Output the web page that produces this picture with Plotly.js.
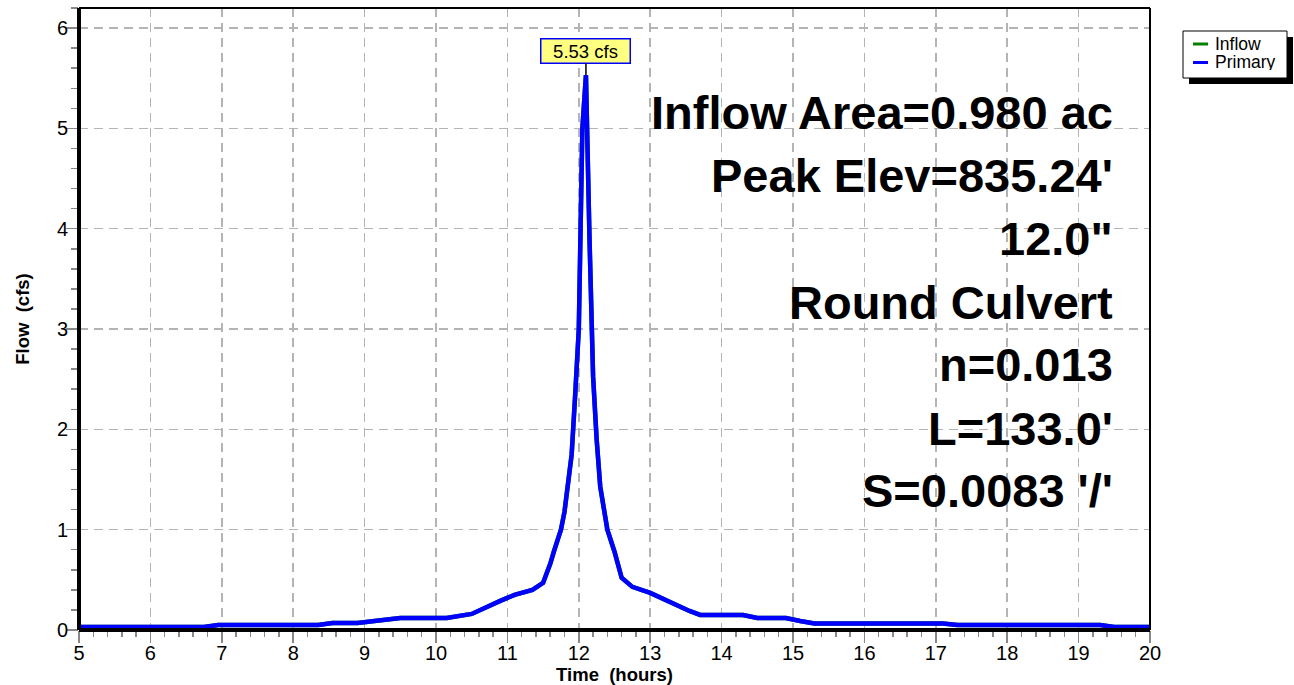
<!DOCTYPE html>
<html>
<head>
<meta charset="utf-8">
<script src="https://cdn.plot.ly/plotly-3.0.1.min.js"></script>
<style>html,body{margin:0;padding:0;background:#fff;}#chart{width:1294px;height:685px;}</style>
</head>
<body>
<div id="chart"></div>
<script>
// ---- data ----
const seriesNames = ["Inflow", "Primary"];
const seriesColors = ["#008000", "#0000ff"];
const time = [5.00, 6.75, 6.95, 8.35, 8.55, 8.90, 9.50, 10.15, 10.50, 10.70, 10.90, 11.10, 11.35, 11.50, 11.55, 11.60, 11.65, 11.70, 11.75, 11.80, 11.85, 11.90, 11.95, 12.00, 12.05, 12.10, 12.15, 12.20, 12.25, 12.30, 12.40, 12.50, 12.60, 12.75, 13.00, 13.20, 13.40, 13.55, 13.70, 14.30, 14.50, 14.90, 15.10, 15.30, 17.10, 17.30, 19.30, 19.50, 20.00];
const primary = [0.03, 0.03, 0.05, 0.05, 0.07, 0.07, 0.12, 0.12, 0.16, 0.23, 0.29, 0.35, 0.40, 0.47, 0.56, 0.66, 0.78, 0.90, 1.00, 1.18, 1.45, 1.75, 2.35, 3.00, 5.00, 5.53, 3.90, 2.53, 1.90, 1.43, 1.00, 0.78, 0.52, 0.43, 0.37, 0.30, 0.24, 0.19, 0.15, 0.15, 0.12, 0.12, 0.09, 0.065, 0.065, 0.05, 0.05, 0.03, 0.03];
const inflow = primary.slice();
const peakTime = 12.10;
const peakFlow = 5.53;
const peakLabel = "5.53 cfs";
const infoLines = ["Inflow Area=0.980 ac", "Peak Elev=835.24'", "12.0\"", "Round Culvert", "n=0.013", "L=133.0'", "S=0.0083 '/'"];
const xTickVals = [5,6,7,8,9,10,11,12,13,14,15,16,17,18,19,20];
const yTickVals = [0,1,2,3,4,5,6];

// ---- geometry ----
const W = 1294, H = 685;
const M = {l: 79, r: 144, t: 8, b: 55};
const PW = W - M.l - M.r, PH = H - M.t - M.b;
const px = x => (x - M.l) / PW;
const py = y => (H - M.b - y) / PH;
const FONT = "Arial, Liberation Sans, sans-serif";

const traces = [
  {x: time, y: inflow, name: seriesNames[0], type: "scatter", mode: "lines",
   line: {color: seriesColors[0], width: 4.5}, showlegend: false, hoverinfo: "x+y"},
  {x: time, y: primary, name: seriesNames[1], type: "scatter", mode: "lines",
   line: {color: seriesColors[1], width: 4.5}, showlegend: false, hoverinfo: "x+y"}
];

const annotations = [];
const infoY = [112, 176, 239, 302, 364, 428, 490];
infoLines.forEach((t, i) => {
  annotations.push({xref: "paper", yref: "paper", x: px(1115), y: py(infoY[i]),
    xanchor: "right", yanchor: "middle", showarrow: false, text: t,
    font: {family: FONT, size: 47, color: "#000", weight: "bold"}});
});
annotations.push({x: peakTime, y: peakFlow, xref: "x", yref: "y", text: peakLabel,
  showarrow: true, arrowhead: 0, arrowwidth: 1.5, arrowcolor: "#000", ax: 0, ay: -24,
  bgcolor: "#ffff80", bordercolor: "#0000ff", borderwidth: 1.5, borderpad: 2,
  width: 84, height: 19, font: {family: FONT, size: 18.5, color: "#000"}});
// legend text
const legY = [44, 62.5];
seriesNames.forEach((n, i) => {
  annotations.push({xref: "paper", yref: "paper", x: px(1214), y: py(legY[i]),
    xanchor: "left", yanchor: "middle", showarrow: false, text: n, height: 16, borderpad: 0,
    font: {family: FONT, size: 17.5, color: "#000"}});
});

const shapes = [
  // frame
  {type: "line", xref: "paper", yref: "paper", x0: 0, x1: 1, y0: 1, y1: 1, line: {color: "#000", width: 2}},
  {type: "line", xref: "paper", yref: "paper", x0: 1, x1: 1, y0: 0, y1: 1, line: {color: "#000", width: 2}},
  {type: "line", xref: "paper", yref: "paper", x0: 0, x1: 0, y0: 0, y1: 1, line: {color: "#000", width: 4}},
  {type: "line", xref: "paper", yref: "paper", x0: 0, x1: 1, y0: 0, y1: 0, line: {color: "#000", width: 4}},
  // legend shadow + box
  {type: "rect", xref: "paper", yref: "paper", x0: px(1189), x1: px(1293), y0: py(37), y1: py(84), fillcolor: "#000", line: {width: 0}},
  {type: "rect", xref: "paper", yref: "paper", x0: px(1183), x1: px(1287), y0: py(31), y1: py(78), fillcolor: "#fff", line: {color: "#000", width: 1}}
];
seriesColors.forEach((c, i) => {
  shapes.push({type: "line", xref: "paper", yref: "paper", x0: px(1193), x1: px(1208), y0: py(legY[i]), y1: py(legY[i]), line: {color: c, width: 3}});
});

const layout = {
  width: W, height: H,
  margin: M,
  paper_bgcolor: "#fff", plot_bgcolor: "#fff",
  showlegend: false,
  font: {family: FONT, color: "#000"},
  xaxis: {
    range: [5, 20], tickvals: xTickVals, ticktext: xTickVals.map(String),
    showline: false, zeroline: false,
    showgrid: true, gridcolor: "#b4b4b4", gridwidth: 1.5, griddash: "9px,6px",
    ticks: "outside", ticklen: 12, tickwidth: 1.5, tickcolor: "#888",
    ticklabelstandoff: -7,
    minor: {dtick: 0.2, ticks: "outside", ticklen: 6, tickwidth: 1.5, tickcolor: "#888", showgrid: false},
    tickfont: {family: FONT, size: 20, color: "#000"},
    title: {text: "Time  (hours)", font: {family: FONT, size: 18.5, color: "#000", weight: "bold"}, standoff: 0}
  },
  yaxis: {
    range: [0, 6.2], tickvals: yTickVals, ticktext: yTickVals.map(String),
    showline: false, zeroline: false,
    showgrid: true, gridcolor: "#b4b4b4", gridwidth: 1.5, griddash: "9px,6px",
    ticks: "outside", ticklen: 12, tickwidth: 1.5, tickcolor: "#888",
    ticklabelstandoff: -6,
    minor: {dtick: 0.2, ticks: "outside", ticklen: 7, tickwidth: 1.5, tickcolor: "#888", showgrid: false},
    tickfont: {family: FONT, size: 20, color: "#000"},
    title: {text: "Flow  (cfs)", font: {family: FONT, size: 18.5, color: "#000", weight: "bold"}, standoff: 22}
  },
  annotations: annotations,
  shapes: shapes
};

Plotly.newPlot("chart", traces, layout, {staticPlot: true, displayModeBar: false});
</script>
</body>
</html>
